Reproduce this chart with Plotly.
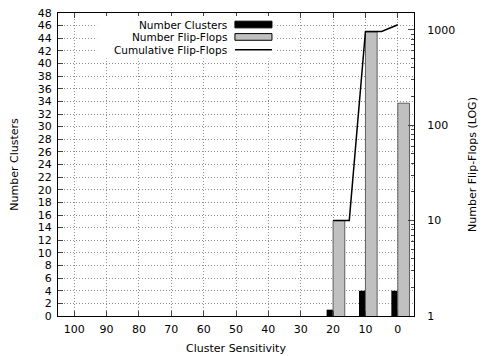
import plotly.graph_objects as go

sensitivity = [20, 10, 0]
num_clusters = [1, 4, 4]
num_flipflops = [10, 950, 170]
cum_x = [20, 15, 10, 5, 0]
cum_flipflops = [10, 10, 960, 960, 1130]

x_ticks = list(range(0, 101, 10))

font = dict(family="DejaVu Sans", size=11, color="black")
key_font = dict(family="DejaVu Sans", size=10.5, color="black")
grid = dict(showgrid=True, gridcolor="#909090", griddash="1px,2px", gridwidth=1)

fig = go.Figure()

fig.add_trace(go.Bar(
  x=sensitivity, y=num_clusters, yaxis="y",
  width=2, offset=0, marker=dict(color="black", line=dict(width=0)),
  name="Number Clusters"
))
fig.add_trace(go.Bar(
  x=sensitivity, y=num_flipflops, yaxis="y2",
  width=3.6, offset=-3.6, marker=dict(color="#c0c0c0", line=dict(color="#606060", width=1)),
  name="Number Flip-Flops"
))
fig.add_trace(go.Scatter(
  x=cum_x, y=cum_flipflops, yaxis="y2", mode="lines",
  line=dict(color="black", width=1.5), name="Cumulative Flip-Flops"
))

fig.update_layout(
  width=482, height=356,
  margin=dict(l=58, r=68, t=13, b=40),
  paper_bgcolor="white", plot_bgcolor="white",
  font=font, showlegend=False, barmode="overlay",
  xaxis=dict(
    range=[105, -5], tickvals=x_ticks, ticks="inside", ticklen=5, ticklabelstandoff=3,
    showline=True, linecolor="black", linewidth=1, mirror="ticks", automargin=False,
    zeroline=False, title=dict(text="Cluster Sensitivity", standoff=9, font=font), **grid
  ),
  yaxis=dict(
    range=[0, 48], dtick=2, ticks="inside", ticklen=5, ticklabelstandoff=3,
    showline=True, linecolor="black", linewidth=1, automargin=False,
    zeroline=False, title=dict(text="Number Clusters", standoff=16, font=font), **grid
  ),
  yaxis2=dict(
    type="log", range=[0, 3.176], overlaying="y", side="right",
    dtick=1, exponentformat="none", ticks="inside", ticklen=6, ticklabelstandoff=10,
    minor=dict(dtick="D1", ticks="inside", ticklen=3, showgrid=False),
    showline=True, linecolor="black", linewidth=1, showgrid=False, automargin=False,
    title=dict(text="Number Flip-Flops (LOG)", standoff=14, font=font)
  ),
)

# gnuplot style key, top right inside the plot
legend_names = ["Number Clusters", "Number Flip-Flops", "Cumulative Flip-Flops"]
key_y = [0.962, 0.921, 0.879]
fig.add_shape(type="rect", xref="paper", yref="paper", x0=0.11, x1=0.61, y0=0.85, y1=0.99,
              fillcolor="white", line=dict(width=0), layer="above")
for name, ky in zip(legend_names, key_y):
  fig.add_annotation(x=0.478, y=ky, xref="paper", yref="paper", text=name, showarrow=False,
                     xanchor="right", yanchor="middle", font=key_font, borderpad=0)
fig.add_shape(type="rect", xref="paper", yref="paper", x0=0.497, x1=0.601, y0=0.951, y1=0.973,
              fillcolor="black", line=dict(color="black", width=1), layer="above")
fig.add_shape(type="rect", xref="paper", yref="paper", x0=0.497, x1=0.601, y0=0.910, y1=0.932,
              fillcolor="#c0c0c0", line=dict(color="black", width=1), layer="above")
fig.add_shape(type="line", xref="paper", yref="paper", x0=0.497, x1=0.601, y0=0.879, y1=0.879,
              line=dict(color="black", width=1.5), layer="above")

fig.write_html("out.html", config={"displayModeBar": False},
               post_script="document.body.style.margin='0';")
